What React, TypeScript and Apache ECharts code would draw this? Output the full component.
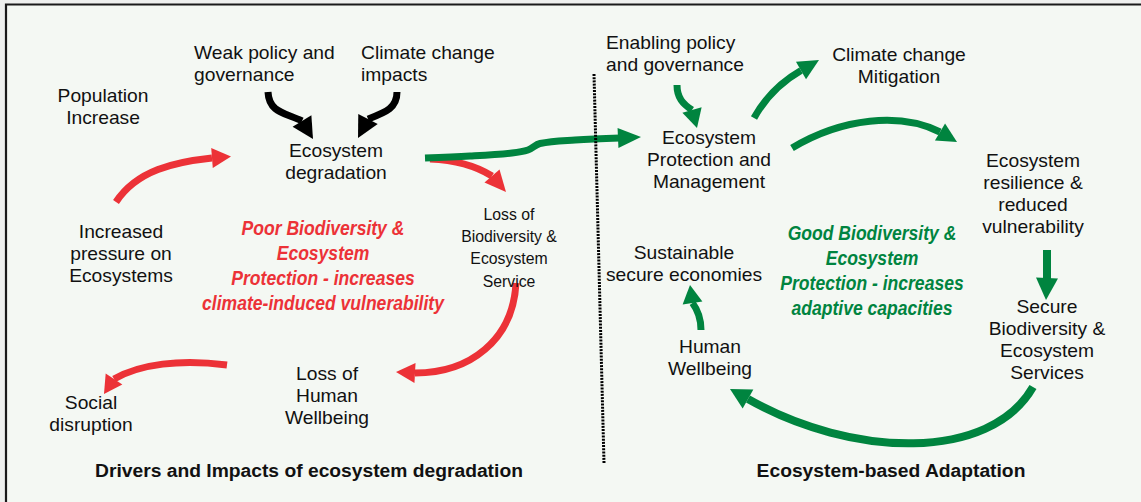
import React, { useEffect, useRef } from "react";
import * as echarts from "echarts";

// ---- Texts (data) ----
const driverNodes = [
  "Population\nIncrease",
  "Weak policy and\ngovernance",
  "Climate change\nimpacts",
  "Ecosystem\ndegradation",
  "Increased\npressure on\nEcosystems",
  "Loss of\nHuman\nWellbeing",
  "Social\ndisruption",
];
const lossNode = "Loss of\nBiodiversity &\nEcosystem\nService";
const poorMessage =
  "Poor Biodiversity &\nEcosystem\nProtection - increases\nclimate-induced vulnerability";
const ebaNodes = [
  "Enabling policy\nand governance",
  "Climate change\nMitigation",
  "Ecosystem\nProtection and\nManagement",
  "Ecosystem\nresilience &\nreduced\nvulnerability",
  "Sustainable\nsecure economies",
  "Human\nWellbeing",
  "Secure\nBiodiversity &\nEcosystem\nServices",
];
const goodMessage =
  "Good Biodiversity &\nEcosystem\nProtection - increases\nadaptive capacities";
const panelTitles = [
  "Drivers and Impacts of ecosystem degradation",
  "Ecosystem-based Adaptation",
];

// ---- Layout (positions) ----
const driverPos: [number, number, string][] = [
  [103, 107, "center"],
  [194, 64, "left"],
  [361, 64, "left"],
  [336, 161.5, "center"],
  [121, 254, "center"],
  [327, 395.5, "center"],
  [91, 413.5, "center"],
];
const ebaPos: [number, number, string][] = [
  [606, 53.5, "left"],
  [899, 65.5, "center"],
  [709, 160, "center"],
  [1033, 194, "center"],
  [684, 263.5, "center"],
  [710, 358, "center"],
  [1047, 340, "center"],
];

const FONT = "'Liberation Sans', Arial, 'DejaVu Sans', sans-serif";
const RED = "#ec3237";
const GREEN = "#00843f";
const BLACK = "#000000";

function txt(text: string, x: number, y: number, align: string, opts: any = {}) {
  return {
    type: "text",
    x,
    y,
    scaleX: opts.scaleX ?? 1.1,
    z: 10,
    style: {
      text,
      fill: opts.fill ?? "#111111",
      fontSize: opts.fontSize ?? 17.5,
      fontFamily: FONT,
      fontWeight: opts.fontWeight ?? "normal",
      fontStyle: opts.fontStyle ?? "normal",
      lineHeight: opts.lineHeight ?? 22,
      align,
      textAlign: align,
      verticalAlign: "middle",
      textVerticalAlign: "middle",
    },
  };
}

type P = [number, number];
function arrow(p0: P, c1: P, c2: P, b: P, tip: P, hw: number, lw: number, color: string) {
  const dx = tip[0] - b[0];
  const dy = tip[1] - b[1];
  const len = Math.hypot(dx, dy) || 1;
  const nx = -dy / len;
  const ny = dx / len;
  return [
    {
      type: "bezierCurve",
      shape: { x1: p0[0], y1: p0[1], cpx1: c1[0], cpy1: c1[1], cpx2: c2[0], cpy2: c2[1], x2: b[0], y2: b[1] },
      style: { stroke: color, lineWidth: lw, fill: null },
    },
    {
      type: "polygon",
      shape: {
        points: [
          [b[0] + nx * hw, b[1] + ny * hw],
          [tip[0], tip[1]],
          [b[0] - nx * hw, b[1] - ny * hw],
        ],
      },
      style: { fill: color },
    },
  ];
}

function head(b: P, tip: P, hw: number, color: string) {
  const dx = tip[0] - b[0];
  const dy = tip[1] - b[1];
  const len = Math.hypot(dx, dy) || 1;
  const nx = -dy / len;
  const ny = dx / len;
  return {
    type: "polygon",
    shape: { points: [[b[0] + nx * hw, b[1] + ny * hw], [tip[0], tip[1]], [b[0] - nx * hw, b[1] - ny * hw]] },
    style: { fill: color },
  };
}

export default function App() {
  const ref = useRef<HTMLDivElement>(null);
  useEffect(() => {
    document.body.style.margin = "0";
    const chart = echarts.init(ref.current!, null, { renderer: "svg" });
    const g: any[] = [];
    // background & frame
    g.push({ type: "rect", shape: { x: 0, y: 0, width: 1141, height: 502 }, style: { fill: "#eef0ee" }, z: 0 });
    g.push({ type: "rect", shape: { x: 6, y: 4.5, width: 1135, height: 498 }, style: { fill: "#f4f8f3" }, z: 0 });
    g.push({
      type: "polyline",
      shape: { points: [[6, 502], [6, 4.5], [1141, 4.5]] },
      style: { stroke: "#1a1a1a", lineWidth: 2.2, fill: null },
      z: 5,
    });
    // dotted divider
    g.push({
      type: "line",
      shape: { x1: 594, y1: 74, x2: 604, y2: 463 },
      style: { stroke: "#000", lineWidth: 3, lineDash: [2, 1.2] },
      z: 5,
    });

    // black arrows
    g.push(...arrow([268, 92], [269, 113], [286, 113], [302, 121], [313, 139], 11, 7, BLACK));
    g.push(...arrow([397, 92], [397, 108], [386, 112], [368, 119], [358, 138], 11, 7, BLACK));

    // red arrows
    g.push(...arrow([116, 202], [137, 170], [175, 162], [212, 158], [231, 156.5], 10, 7, RED));
    g.push(...arrow([430, 159], [455, 160], [476, 166], [492, 176], [506, 192], 10, 7, RED));
    g.push(...arrow([516, 283], [513, 340], [470, 373], [415, 373], [396, 372], 10, 7, RED));
    g.push(...arrow([227, 365], [180, 359], [140, 364], [114, 379], [104, 394], 10, 7, RED));

    // green arrows
    g.push({
      type: "polyline",
      shape: {
        points: [[425, 158], [470, 156], [512, 153], [528, 150], [540, 143.5], [575, 140], [620, 138]],
        smooth: 0.35,
      },
      style: { stroke: GREEN, lineWidth: 7, fill: null, lineJoin: "round" },
      z: 3,
    });
    g.push(head([618, 138], [641, 137], 10, GREEN));
    g.push(...arrow([677, 85], [677, 98], [683, 104], [692, 110], [697, 128], 10, 7, GREEN));
    g.push(...arrow([754, 118], [765, 98], [781, 82], [801, 70.5], [819, 60], 10, 7, GREEN));
    g.push(...arrow([792, 148], [842, 118], [900, 112], [940, 132], [957, 142], 10, 7, GREEN));
    g.push({
      type: "line",
      shape: { x1: 1047, y1: 250, x2: 1047, y2: 279 },
      style: { stroke: GREEN, lineWidth: 8 },
    });
    g.push(head([1047, 278], [1046, 300], 11, GREEN));
    g.push(...arrow([1033, 387], [990, 462], [852, 458], [748, 399], [730, 389], 11, 8, GREEN));
    g.push(...arrow([701, 330], [701, 316], [697, 309], [692.5, 303], [690, 285], 10, 7, GREEN));

    // texts
    driverNodes.forEach((t, i) => {
      const [x, y, a] = driverPos[i];
      g.push(txt(t, x, y, a));
    });
    g.push(txt(lossNode, 509, 247, "center", { fontSize: 17, scaleX: 0.93, lineHeight: 22.3 }));
    g.push(
      txt(poorMessage, 323, 265.5, "center", {
        fill: RED,
        fontSize: 19.5,
        fontWeight: "bold",
        fontStyle: "italic",
        scaleX: 0.9,
        lineHeight: 25,
      })
    );
    ebaNodes.forEach((t, i) => {
      const [x, y, a] = ebaPos[i];
      g.push(txt(t, x, y, a));
    });
    g.push(
      txt(goodMessage, 872, 270.5, "center", {
        fill: GREEN,
        fontSize: 19.5,
        fontWeight: "bold",
        fontStyle: "italic",
        scaleX: 0.9,
        lineHeight: 25,
      })
    );
    g.push(txt(panelTitles[0], 309, 471, "center", { fontWeight: "bold", fontSize: 18, scaleX: 1.07 }));
    g.push(txt(panelTitles[1], 891, 471, "center", { fontWeight: "bold", fontSize: 18, scaleX: 1.07 }));

    chart.setOption({ animation: false, graphic: { elements: g } });
    return () => chart.dispose();
  }, []);
  return <div ref={ref} style={{ width: 1141, height: 502 }} />;
}
